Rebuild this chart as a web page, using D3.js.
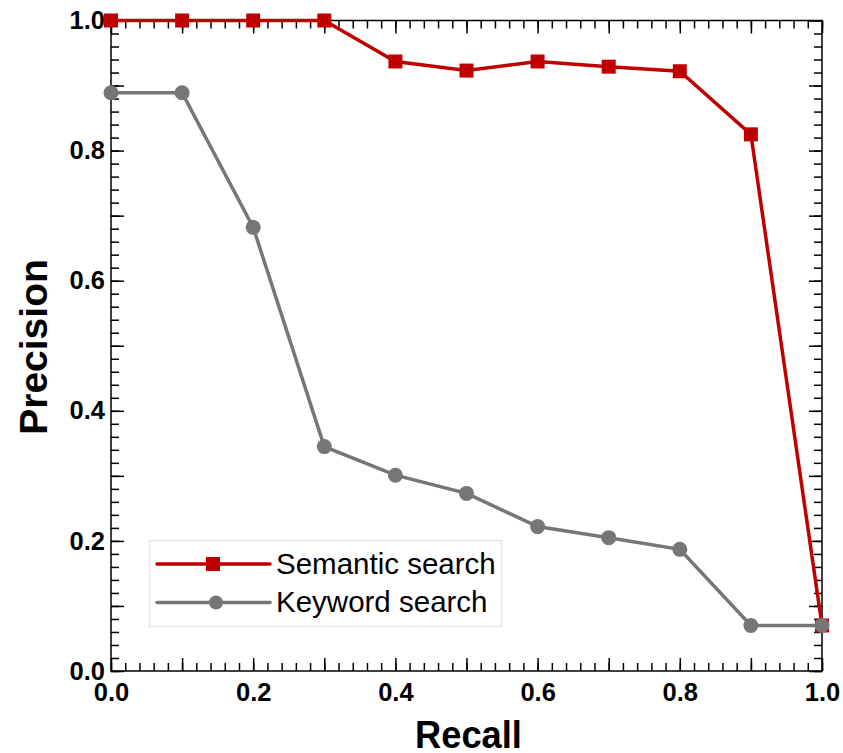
<!DOCTYPE html>
<html>
<head>
<meta charset="utf-8">
<script src="https://cdn.jsdelivr.net/npm/d3@7"></script>
<style>
  body { margin: 0; background: #fff; }
  text { font-family: Arial, "Liberation Sans", sans-serif; }
</style>
</head>
<body>
<div id="chart"></div>
<script>
var svgWidth = 843;
var svgHeight = 753;

var margin = { top: 20.5, right: 21, bottom: 82, left: 111 };
var width = svgWidth - margin.left - margin.right;
var height = svgHeight - margin.top - margin.bottom;

// Data
var recall = [0.0, 0.1, 0.2, 0.3, 0.4, 0.5, 0.6, 0.7, 0.8, 0.9, 1.0];
var semantic = [1.0, 1.0, 1.0, 1.0, 0.937, 0.923, 0.937, 0.929, 0.922, 0.825, 0.07];
var keyword = [0.889, 0.889, 0.682, 0.345, 0.301, 0.273, 0.222, 0.205, 0.187, 0.07, 0.07];
var tickLabels = [0.0, 0.2, 0.4, 0.6, 0.8, 1.0];
var seriesNames = ["Semantic search", "Keyword search"];

var red = "#c00000";
var gray = "#767676";

var svg = d3.select("#chart")
  .append("svg")
  .attr("width", svgWidth)
  .attr("height", svgHeight);

var chartGroup = svg.append("g")
  .attr("transform", `translate(${margin.left}, ${margin.top})`);

var x = d3.scaleLinear().domain([0, 1]).range([0, width]);
var y = d3.scaleLinear().domain([0, 1]).range([height, 0]);

var minorTicks = d3.range(0, 51).map(d => d / 50);
var majorTicks = d3.range(0, 11).map(d => d / 10);

// Inward ticks on all four sides
function tickAxis(axisFn, scale, ticks, len, transform) {
  var g = chartGroup.append("g")
    .attr("transform", transform)
    .call(axisFn(scale).tickValues(ticks).tickSize(-len).tickFormat(""));
  g.select(".domain").remove();
  g.selectAll("line").attr("stroke", "#000").attr("stroke-width", 1.5);
  return g;
}
tickAxis(d3.axisBottom, x, minorTicks, 8, `translate(0, ${height})`);
tickAxis(d3.axisBottom, x, majorTicks, 13, `translate(0, ${height})`);
tickAxis(d3.axisTop, x, minorTicks, 8, "translate(0, 0)");
tickAxis(d3.axisTop, x, majorTicks, 13, "translate(0, 0)");
tickAxis(d3.axisLeft, y, minorTicks, 8, "translate(0, 0)");
tickAxis(d3.axisLeft, y, majorTicks, 13, "translate(0, 0)");
tickAxis(d3.axisRight, y, minorTicks, 8, `translate(${width}, 0)`);
tickAxis(d3.axisRight, y, majorTicks, 13, `translate(${width}, 0)`);

// Frame
chartGroup.append("rect")
  .attr("width", width)
  .attr("height", height)
  .attr("fill", "none")
  .attr("stroke", "#000")
  .attr("stroke-width", 1.5);

// Tick labels
var xLabels = chartGroup.append("g")
  .attr("transform", `translate(0, ${height})`)
  .call(d3.axisBottom(x).tickValues(tickLabels).tickSize(0).tickPadding(12).tickFormat(d3.format(".1f")));
xLabels.select(".domain").remove();
xLabels.selectAll("text")
  .attr("dy", "0.71em")
  .attr("font-size", "25.5px")
  .attr("font-weight", "bold")
  .attr("fill", "#000");

var yLabels = chartGroup.append("g")
  .call(d3.axisLeft(y).tickValues(tickLabels).tickSize(0).tickPadding(6).tickFormat(d3.format(".1f")));
yLabels.select(".domain").remove();
yLabels.selectAll("text")
  .attr("font-size", "25.5px")
  .attr("font-weight", "bold")
  .attr("fill", "#000");

// Axis titles
svg.append("text")
  .attr("transform", "translate(468.5, 748) scale(0.93, 1)")
  .attr("text-anchor", "middle")
  .attr("font-size", "39px")
  .attr("font-weight", "bold")
  .text("Recall");

svg.append("text")
  .attr("transform", "translate(47, 347) rotate(-90)")
  .attr("text-anchor", "middle")
  .attr("font-size", "39px")
  .attr("font-weight", "bold")
  .text("Precision");

var line = d3.line()
  .x((d, i) => x(recall[i]))
  .y(d => y(d));

// Keyword search series
chartGroup.append("path")
  .datum(keyword)
  .attr("d", line)
  .attr("fill", "none")
  .attr("stroke", gray)
  .attr("stroke-width", 3.5);

// Semantic search series
chartGroup.append("path")
  .datum(semantic)
  .attr("d", line)
  .attr("fill", "none")
  .attr("stroke", red)
  .attr("stroke-width", 3.5);

chartGroup.selectAll(".sem")
  .data(semantic)
  .enter()
  .append("rect")
  .attr("class", "sem")
  .attr("x", (d, i) => x(recall[i]) - 7)
  .attr("y", d => y(d) - 7)
  .attr("width", 14)
  .attr("height", 14)
  .attr("fill", red);

chartGroup.selectAll(".kw")
  .data(keyword)
  .enter()
  .append("circle")
  .attr("class", "kw")
  .attr("cx", (d, i) => x(recall[i]))
  .attr("cy", d => y(d))
  .attr("r", 7.5)
  .attr("fill", gray);

// Legend
var legend = svg.append("g");
legend.append("rect")
  .attr("x", 149.5)
  .attr("y", 540.5)
  .attr("width", 352)
  .attr("height", 86)
  .attr("fill", "#fff")
  .attr("stroke", "#e6e6dc")
  .attr("stroke-width", 1.5);

var legendColors = [red, gray];
var legendMarkerX = [213, 216];
seriesNames.forEach(function(name, i) {
  var ly = 564 + i * 38.5;
  legend.append("line")
    .attr("x1", 157)
    .attr("x2", 270)
    .attr("y1", ly)
    .attr("y2", ly)
    .attr("stroke", legendColors[i])
    .attr("stroke-width", 3.5)
    .attr("stroke-linecap", "round");
  if (i === 0) {
    legend.append("rect")
      .attr("x", legendMarkerX[i] - 7)
      .attr("y", ly - 7)
      .attr("width", 14)
      .attr("height", 14)
      .attr("fill", red);
  } else {
    legend.append("circle")
      .attr("cx", legendMarkerX[i])
      .attr("cy", ly)
      .attr("r", 7)
      .attr("fill", gray);
  }
  legend.append("text")
    .attr("x", 276)
    .attr("y", ly + 9.5)
    .attr("font-size", "29.5px")
    .attr("fill", "#000")
    .text(name);
});
</script>
</body>
</html>
